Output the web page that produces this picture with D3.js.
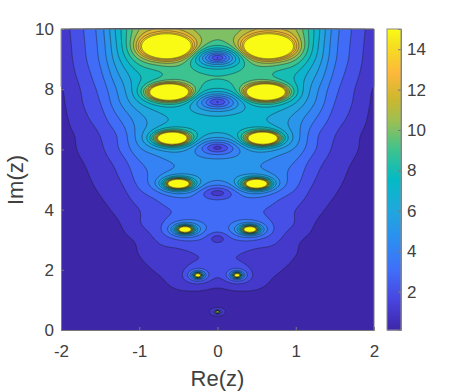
<!DOCTYPE html>
<html><head><meta charset="utf-8">
<script src="https://cdn.jsdelivr.net/npm/d3@7"></script>
<style>html,body{margin:0;background:#fff}svg{display:block}text{font-family:"Liberation Sans",Arial,sans-serif;fill:#404040}</style>
</head><body><svg id="c" width="458" height="392"></svg>
<script>
// Surface. Columns are |Re(z)|, rows are Im(z); the plot is mirror-symmetric in Re(z).
const reCols=[0,.25,.5,.75,1,1.25,1.5,1.75,2];
const imRows=[0,.5,1,1.5,2,2.5,3,3.5,4,4.5,5,5.5,6,6.5,7,7.5,8,8.5,9,9.5,10];
const surface=[
[.2,.2,.2,.2,.2,.2,.2,.2,.2],
[.3,.3,.3,.25,.25,.2,.2,.2,.2],
[.36,.38,.4,.38,.3,.25,.2,.2,.2],
[.4,.6,.85,.68,.42,.3,.25,.2,.2],
[1,1,.95,1,.7,.4,.3,.25,.2],
[1.6,1.5,1.35,1.4,.95,.55,.35,.3,.25],
[2.1,1.9,1.7,1.65,1.05,.7,.45,.3,.25],
[2.6,2.4,2.1,1.95,1.7,.92,.6,.4,.3],
[3.2,3,2.6,2.4,1.85,1.2,.78,.5,.35],
[3.9,3.7,3.3,2.8,2.4,1.5,1,.6,.4],
[4.6,4.4,3.9,3.5,3,1.9,1.25,.75,.5],
[5.2,5,4.6,4.2,3.6,2.3,1.45,.9,.55],
[5.9,5.7,5.3,4.8,4.3,2.9,1.75,1.1,.65],
[6.7,6.5,6,5.4,4.7,3.1,2,1.2,.7],
[7.2,7.1,6.7,6.2,5.3,3.9,2.5,1.6,.75],
[7.7,7.6,7.3,6.9,6.2,4.7,2.9,1.85,.85],
[8.2,8.1,7.8,7.3,6.8,5.1,3.25,2,.95],
[8.9,8.8,8.6,8,7.5,5.9,3.7,2.3,1.25],
[9.2,9.2,9.2,9,8.6,6.6,4.05,2.55,1.35],
[9.4,9.6,9.9,9.9,9.5,7,4.2,2.65,1.45],
[9.7,10,10.5,10.6,10.2,7.5,4.4,2.75,1.55]];
// Saturated yellow cores: centre and half-axes of the 15 contour, in data units.
const peakRe=[0,.25,.415,.5,.58,.62,.65];
const peakIm=[.6,1.82,3.34,4.86,6.37,7.9,9.41];
const peakRx=[.013,.032,.077,.137,.192,.256,.341];
const peakRy=[.017,.05,.09,.143,.2,.27,.42];
const peakPow=[1.4,1.3,1.6,2.2,2.6,3.2,3];
const peakReach=[.2,.42,.6,.7,.8,.85,.9];
// Minima on the Re(z)=0 axis: centre, value ratio at the centre, extent.
const dipIm=[3.05,4.56,6.06,7.58,9.05];
const dipRatio=[.25,.22,.2,.2,.14];
const dipRx=[.14,.3,.34,.35,.34];
const dipRy=[.2,.3,.33,.35,.35];
const levels=[1,2,3,4,5,6,7,8,9,10,11,12,13,14,15];
const colorT=[.1,1.6,3.1,4.6,6.1,7.55,9,10.5,11.5,12.8,14.2,15];
const colorC=["#3e26a8","#4845e0","#3f6ffa","#2c8ff0","#1fa8dc","#03bac4","#3dc38f","#a0bf50","#cbb82e","#fdb83a","#f5e01f","#f9fb15"];
const xTicks=[-2,-1,0,1,2],yTicks=[0,2,4,6,8,10],barTicks=[2,4,6,8,10,12,14];

const L=61,R=374,T=29,B=330,BL=387,BR=401;
const x=d3.scaleLinear([-2,2],[L,R]),y=d3.scaleLinear([0,10],[B,T]);
const col=d3.scaleLinear(colorT,colorC).clamp(true);
const bar=d3.scaleLinear([.1,15],[B,T]);
const svg=d3.select("#c");

function cr(p0,p1,p2,p3,t){return .5*(2*p1+(p2-p0)*t+(2*p0-5*p1+4*p2-p3)*t*t+(3*p1-p0-3*p2+p3)*t*t*t);}
function base(re,im){
  const u=re/.25,v=im/.5,i=Math.min(Math.floor(u),reCols.length-2),j=Math.min(Math.floor(v),imRows.length-2);
  const cl=(a,n)=>Math.max(0,Math.min(n-1,a));
  const cs=[];
  for(let b=-1;b<3;b++){const r=surface[cl(j+b,imRows.length)];
    const gi=k=>k<0?r[-k]:r[cl(k,reCols.length)];
    cs.push(cr(gi(i-1),gi(i),gi(i+1),gi(i+2),u-i));}
  return Math.max(.12,cr(cs[0],cs[1],cs[2],cs[3],v-j));
}
function field(re,im){
  const a=Math.abs(re);
  let f=base(a,im);
  dipIm.forEach((c,i)=>{const r2=(a/dipRx[i])**2+((im-c)/dipRy[i])**2,m=dipRatio[i];
    f*=Math.sqrt(m*m+(1-m*m)*(1-Math.exp(-r2)));});
  peakRe.forEach((c,i)=>{const b=base(c,peakIm[i]);
    (c===0?[c]:[c,-c]).forEach(s=>{
      const dx=a-s,dy=im-peakIm[i];
      const rho=Math.max(.3,Math.hypot(dx/peakRx[i],dy/peakRy[i]));
      const win=Math.exp(-(dx*dx+dy*dy/4)/(peakReach[i]*peakReach[i]));
      f+=(15-b)*Math.pow(rho,-peakPow[i])*win;});});
  return f;
}
const S=2,W=(R-L)*S,H=(B-T)*S,vals=new Float64Array(W*H);
for(let j=0;j<H;j++)for(let i=0;i<W;i++)vals[i+j*W]=field(x.invert(L+(i+.5)/S),y.invert(T+(j+.5)/S));
const contours=d3.contours().size([W,H]).thresholds(levels)(Array.from(vals));
const gm=svg.append("g").attr("transform",`translate(${L},${T}) scale(${1/S})`);
gm.append("rect").attr("width",W).attr("height",H).attr("fill",col(.1));
const path=d3.geoPath();
gm.selectAll("path").data(contours).join("path").attr("d",path)
  .attr("fill",d=>col(d.value)).attr("stroke","#1c1c28").attr("stroke-opacity",.8).attr("stroke-width",S*.6);

// Axes
const axB=d3.axisBottom(x).tickValues(xTicks).tickSize(-3).tickPadding(15).tickFormat(String);
const axL=d3.axisLeft(y).tickValues(yTicks).tickSize(-3).tickPadding(7).tickFormat(String);
function sty(g){g.selectAll("path,line").attr("stroke","#7a7a7a").attr("stroke-width",1);g.selectAll("text").attr("font-size",17).attr("fill","#404040");}
svg.append("g").attr("transform",`translate(0,${B})`).call(axB).call(sty);
svg.append("g").attr("transform",`translate(${L},0)`).call(axL).call(sty);
svg.append("path").attr("d",`M${L},${T}H${R}V${B}`).attr("fill","none").attr("stroke","#7a7a7a");
svg.append("text").attr("x",217.5).attr("y",386).attr("text-anchor","middle").attr("font-size",22).text("Re(z)");
svg.append("text").attr("transform","translate(23,180) rotate(-90)").attr("text-anchor","middle").attr("font-size",22).text("Im(z)");

// Colour bar
const rows=d3.range(T,B);
svg.append("g").selectAll("rect").data(rows).join("rect").attr("x",BL).attr("y",d=>d).attr("width",BR-BL).attr("height",1.5)
  .attr("fill",d=>col(bar.invert(d+.5)));
const axR=d3.axisRight(bar).tickValues(barTicks).tickSize(-3).tickPadding(6).tickFormat(String);
svg.append("g").attr("transform",`translate(${BR},0)`).call(axR).call(sty);
svg.append("rect").attr("x",BL).attr("y",T).attr("width",BR-BL).attr("height",B-T).attr("fill","none").attr("stroke","#8a8a8a");
</script></body></html>
